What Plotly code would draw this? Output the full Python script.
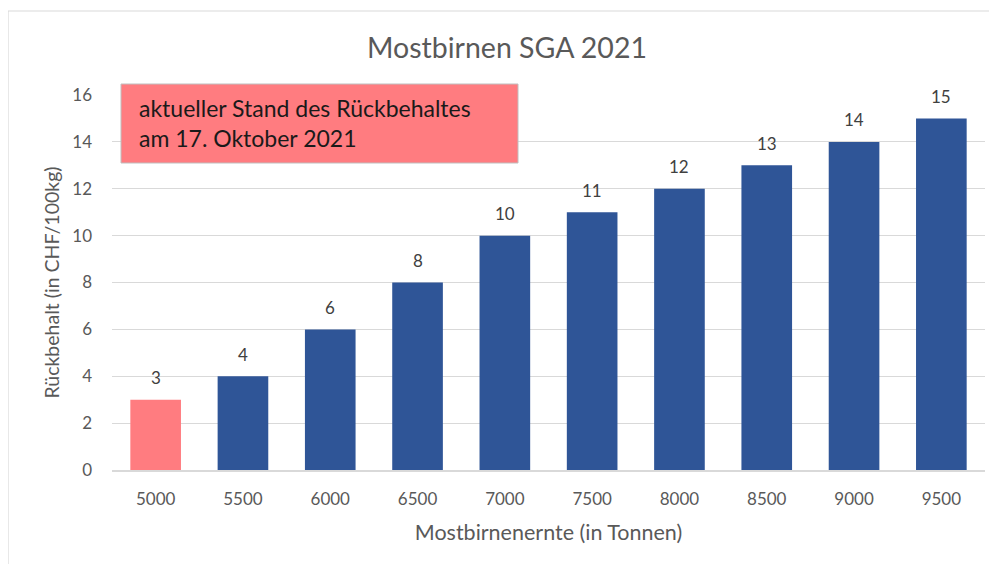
import plotly.graph_objects as go

categories = ["5000", "5500", "6000", "6500", "7000", "7500", "8000", "8500", "9000", "9500"]
values = [3, 4, 6, 8, 10, 11, 12, 13, 14, 15]
highlight_index = 0

title_text = "Mostbirnen SGA 2021"
x_title = "Mostbirnenernte (in Tonnen)"
y_title = "Rückbehalt (in CHF/100kg)"
note_text = "aktueller Stand des Rückbehaltes<br>am 17. Oktober 2021"

BLUE = "#2F5597"
PINK = "#FF7C80"
GRID = "#D9D9D9"
TXT = "#595959"
FONT = "Lato"

colors = [PINK if i == highlight_index else BLUE for i in range(len(values))]

fig = go.Figure(go.Bar(
    x=categories, y=values,
    marker=dict(color=colors, line=dict(width=0)),
    width=0.58,
    hoverinfo="x+y",
))

# page body has an 8px margin; work in window pixel coords and offset
OX, OY = 8, 8
WIN_W, WIN_H = 997, 564
W, H = WIN_W - OX, WIN_H - OY
PL, PR, PT, PB = 112, 985, 95, 470  # plot area in window pixels
L, R, T, B = PL - OX, WIN_W - PR, PT - OY, WIN_H - PB
pw, ph = PR - PL, PB - PT

def px_x(x):
    return (x - PL) / pw

def px_y(y):
    return (PB - y) / ph

annotations = [
    dict(x=i, y=v, xref="x", yref="y", text=str(v), showarrow=False,
         yanchor="middle", yshift=22,
         font=dict(family=FONT, size=17, color="#404040"))
    for i, v in enumerate(values)
]
annotations.append(
    dict(text=note_text, xref="paper", yref="paper", x=px_x(137), y=px_y(123.5),
         xanchor="left", yanchor="middle", align="left", showarrow=False,
         font=dict(family=FONT, size=23, color="#1A1A1A"))
)

fig.update_layout(
    width=W, height=H,
    margin=dict(l=L, r=R, t=T, b=B, pad=0),
    paper_bgcolor="white", plot_bgcolor="white",
    showlegend=False,
    font=dict(family=FONT, color=TXT),
    title=dict(text=title_text, x=px_x(507), xref="paper", xanchor="center",
               y=1 - (48 - OY) / H, yanchor="middle", yref="container",
               font=dict(family=FONT, size=28.5, color=TXT)),
    xaxis=dict(type="category", showgrid=False, showline=True, linecolor=GRID, linewidth=1.5,
               range=[-0.5, len(categories) - 0.5],
               ticks="", tickfont=dict(family=FONT, size=17, color=TXT),
               ticklabelstandoff=13,
               title=dict(text=x_title, font=dict(family=FONT, size=21.5, color=TXT), standoff=17)),
    yaxis=dict(range=[0, 16], dtick=2, showgrid=True, gridcolor=GRID, gridwidth=1.2,
               zeroline=False, showline=False, ticks="",
               tickfont=dict(family=FONT, size=17, color=TXT),
               ticklabelstandoff=19,
               title=dict(text=y_title, font=dict(family=FONT, size=19.5, color=TXT), standoff=7)),
    shapes=[
        dict(type="rect", xref="paper", yref="paper",
             x0=px_x(8), x1=px_x(1010), y0=px_y(580), y1=px_y(11),
             line=dict(color=GRID, width=1.2), fillcolor="rgba(0,0,0,0)", layer="below"),
        dict(type="rect", xref="paper", yref="paper",
             x0=px_x(121), x1=px_x(518), y0=px_y(163), y1=px_y(84),
             line=dict(color="#BFBFBF", width=1), fillcolor=PINK, layer="above"),
    ],
    annotations=annotations,
)

fig.write_html("out.html")
